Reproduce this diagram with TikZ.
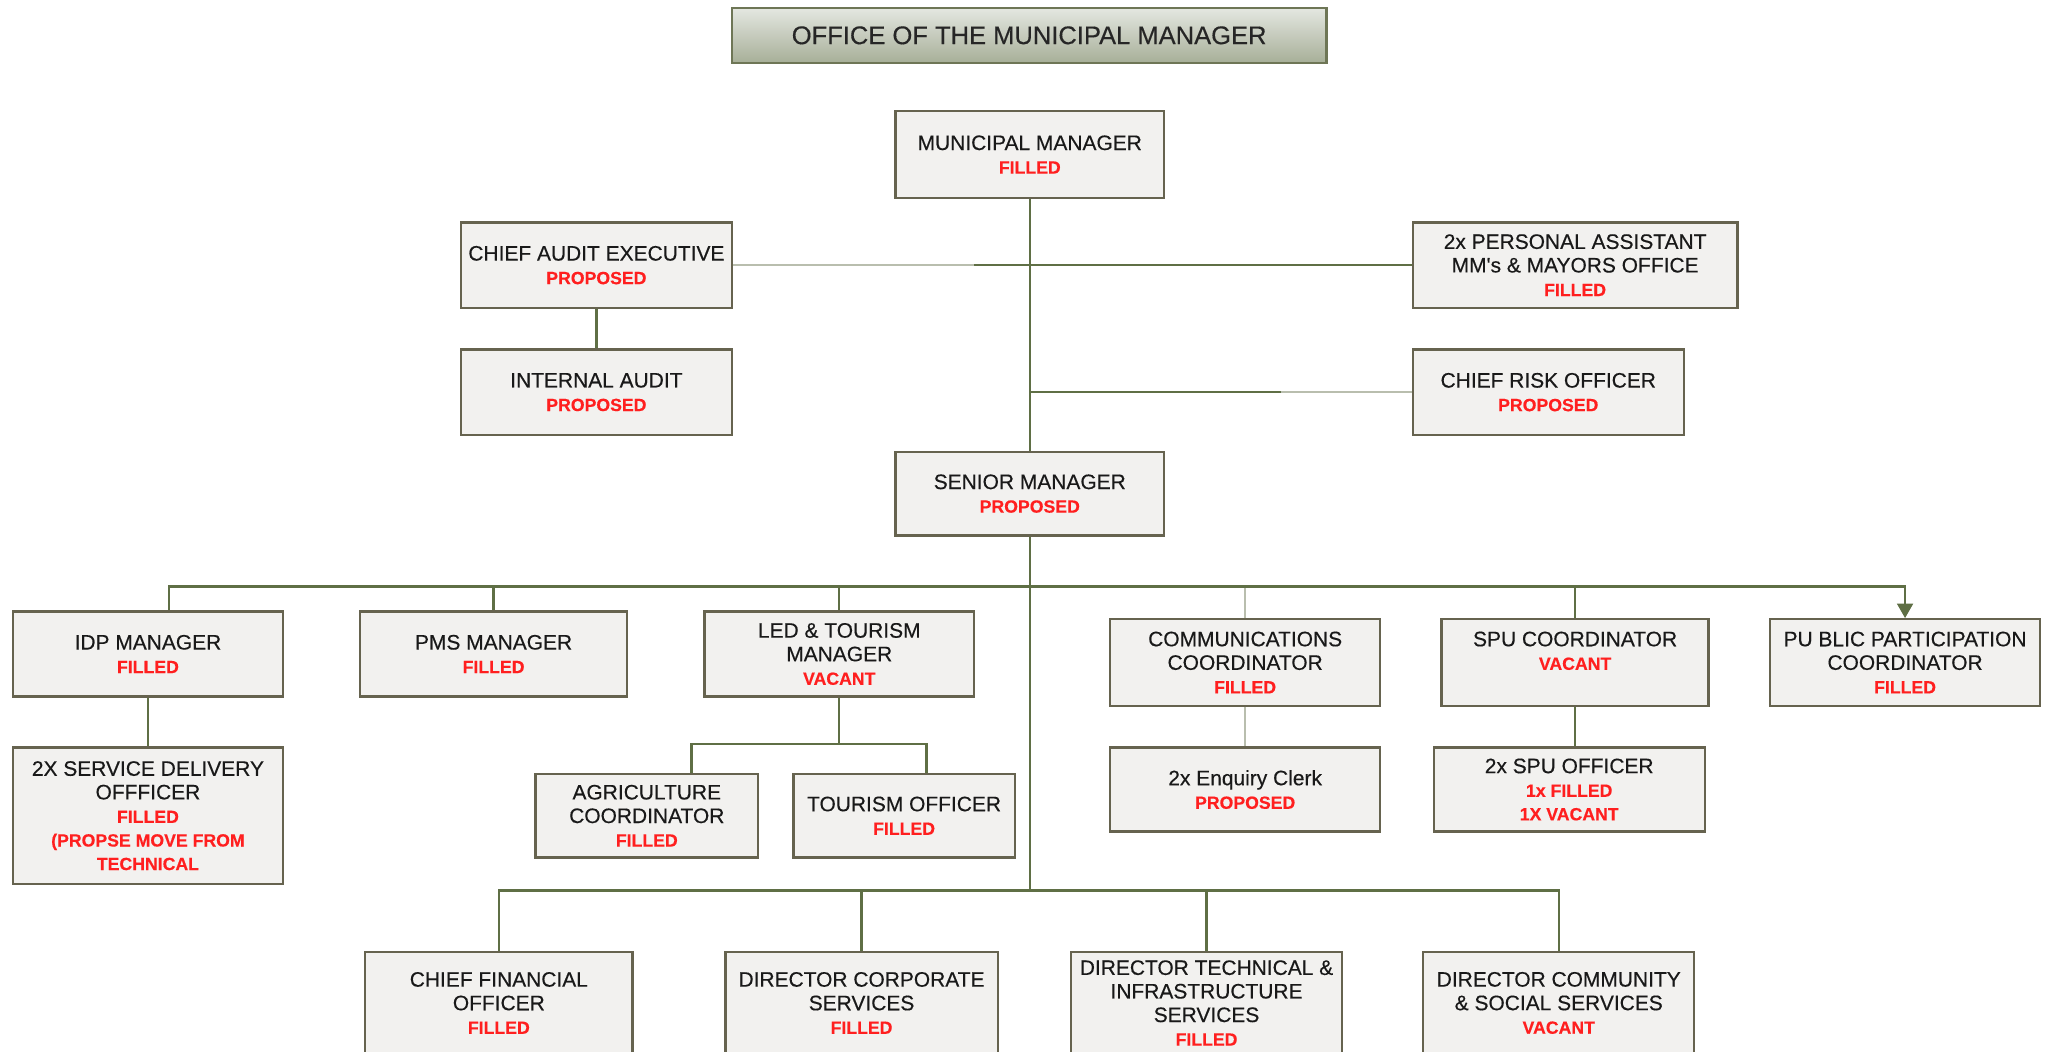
\documentclass[tikz,border=0pt]{standalone}
\usepackage{fontspec}
\setmainfont{Liberation Sans}
\newfontfamily\posttext{Liberation Sans}[FakeBold=0.35]
\usetikzlibrary{arrows.meta}

\definecolor{boxfill}{HTML}{F2F1EF}
\definecolor{boxline}{HTML}{66634F}
\definecolor{linkgreen}{HTML}{5F6F45}
\definecolor{linkpale}{HTML}{B9BEAE}
\definecolor{statred}{HTML}{FF1F1F}
\definecolor{titletop}{HTML}{E4E7E1}
\definecolor{titlebot}{HTML}{A7AF98}
\definecolor{titleline}{HTML}{6E7656}

% status line (FILLED / VACANT / PROPOSED) under a post title
\newcommand\statusline[1]{{\color{statred}\bfseries\fontsize{13.5}{18}\selectfont #1}}

\begin{document}
\begin{tikzpicture}[x=1pt,y=-1pt,
  post/.style={draw=boxline, fill=boxfill, line width=1.8pt, align=center,
    inner sep=2pt, text=black!90, font=\posttext\fontsize{16}{18}\selectfont},
  sized/.style 2 args={minimum width=#1pt, minimum height=#2pt},
  titlebox/.style={draw=titleline, line width=1.8pt, top color=titletop,
    bottom color=titlebot, text=black!85, font=\posttext\fontsize{19.5}{22}\selectfont},
  link/.style={draw=linkgreen, line width=1.8pt},
  palelink/.style={draw=linkpale, line width=2pt},
]
\useasboundingbox (0,0) rectangle (1568,803);
\fill[white] (0,0) rectangle (1568,803);
\clip (0,0) rectangle (1568,803);

% heading
\node[titlebox, sized={454}{42}] (office) at (786,27) {OFFICE OF THE MUNICIPAL MANAGER};

% top of the office
\node[post, sized={205}{66}] (mm) at (786.5,118) {MUNICIPAL MANAGER\\\statusline{FILLED}};
\node[post, sized={207}{65}] (cae) at (455.5,202.5) {CHIEF AUDIT EXECUTIVE\\\statusline{PROPOSED}};
\node[post, sized={248}{65}] (pa) at (1203,202.5) {2x PERSONAL ASSISTANT\\MM's \& MAYORS OFFICE\\\statusline{FILLED}};
\node[post, sized={207}{65}] (ia) at (455.5,299.5) {INTERNAL AUDIT\\\statusline{PROPOSED}};
\node[post, sized={207}{65}] (cro) at (1182.5,299.5) {CHIEF RISK OFFICER\\\statusline{PROPOSED}};
\node[post, sized={205}{64}] (sm) at (786.5,377) {SENIOR MANAGER\\\statusline{PROPOSED}};

% units under the senior manager
\node[post, sized={206}{65}] (idp) at (113,499.5) {IDP MANAGER\\\statusline{FILLED}};
\node[post, sized={204}{65}] (pms) at (377,499.5) {PMS MANAGER\\\statusline{FILLED}};
\node[post, sized={206}{65}] (led) at (641,499.5) {LED \& TOURISM\\MANAGER\\\statusline{VACANT}};
\node[post, sized={206}{66}] (comm) at (951,506) {COMMUNICATIONS\\COORDINATOR\\\statusline{FILLED}};
\node[post, sized={204}{66}] (spu) at (1203,506) {SPU COORDINATOR\\\statusline{VACANT}\\\mbox{}};
\node[post, sized={206}{66}] (ppc) at (1455,506) {PU BLIC PARTICIPATION\\COORDINATOR\\\statusline{FILLED}};

\node[post, sized={206}{104}] (sdo) at (113,623) {2X SERVICE DELIVERY\\OFFFICER\\\statusline{FILLED}\\\statusline{(PROPSE MOVE FROM}\\\statusline{TECHNICAL}};
\node[post, sized={170}{64}] (agri) at (494,623) {AGRICULTURE\\COORDINATOR\\\statusline{FILLED}};
\node[post, sized={169}{64}] (tour) at (690.5,623) {TOURISM OFFICER\\\statusline{FILLED}};
\node[post, sized={206}{64}] (enq) at (951,603) {2x Enquiry Clerk\\\statusline{PROPOSED}};
\node[post, sized={207}{64}] (spuo) at (1198.5,603) {2x SPU OFFICER\\\statusline{1x FILLED}\\\statusline{1X VACANT}};

% directorates
\node[post, sized={204}{78}] (cfo) at (381,766) {CHIEF FINANCIAL\\OFFICER\\\statusline{FILLED}};
\node[post, sized={208}{78}] (dcs) at (658,766) {DIRECTOR CORPORATE\\SERVICES\\\statusline{FILLED}};
\node[post, sized={207}{78}] (dtis) at (921.5,766) {DIRECTOR TECHNICAL \&\\INFRASTRUCTURE\\SERVICES\\\statusline{FILLED}};
\node[post, sized={207}{78}] (dcss) at (1190.5,766) {DIRECTOR COMMUNITY\\\& SOCIAL SERVICES\\\statusline{VACANT}};

% junction points
\coordinate (trunkfoot) at (786.5,680);
\coordinate (busend) at (1455,448);
\coordinate (ledfork) at (641,568);
\coordinate (caeknee) at (744,202.5);
\coordinate (croknee) at (978,299.5);

% main spine
\draw[link] (mm.south) -- (sm.north);
\draw[link] (sm.south) -- (trunkfoot);

% staff posts beside the spine
\draw[palelink] (cae.east) -- (caeknee);
\draw[link] (caeknee) -- (pa.west);
\draw[link] (mm.south |- cro.west) -- (croknee);
\draw[palelink] (croknee) -- (cro.west);
\draw[link] (cae.south) -- (ia.north);

% senior manager's units
\draw[palelink] (comm.north) -- (comm.north |- busend);
\draw[link, -{Triangle[width=12pt,length=11pt]}] ([xshift=16pt]idp.north) |- (busend) -- (ppc.north);
\draw[link] (pms.north) -- (pms.north |- busend);
\draw[link] (led.north) -- (led.north |- busend);
\draw[link] (spu.north) -- (spu.north |- busend);

\draw[link] (idp.south) -- (sdo.north);
\draw[link] (led.south) -- (ledfork);
\draw[link] ([xshift=34pt]agri.north) |- (ledfork) -| ([xshift=17pt]tour.north);
\draw[palelink] (comm.south) -- (enq.north);
\draw[link] (spu.south) -- (spu.south |- spuo.north);

% directorates
\draw[link] (cfo.north) |- (trunkfoot) -| (dcss.north);
\draw[link] (dcs.north) -- (dcs.north |- trunkfoot);
\draw[link] (dtis.north) -- (dtis.north |- trunkfoot);
\end{tikzpicture}
\end{document}
